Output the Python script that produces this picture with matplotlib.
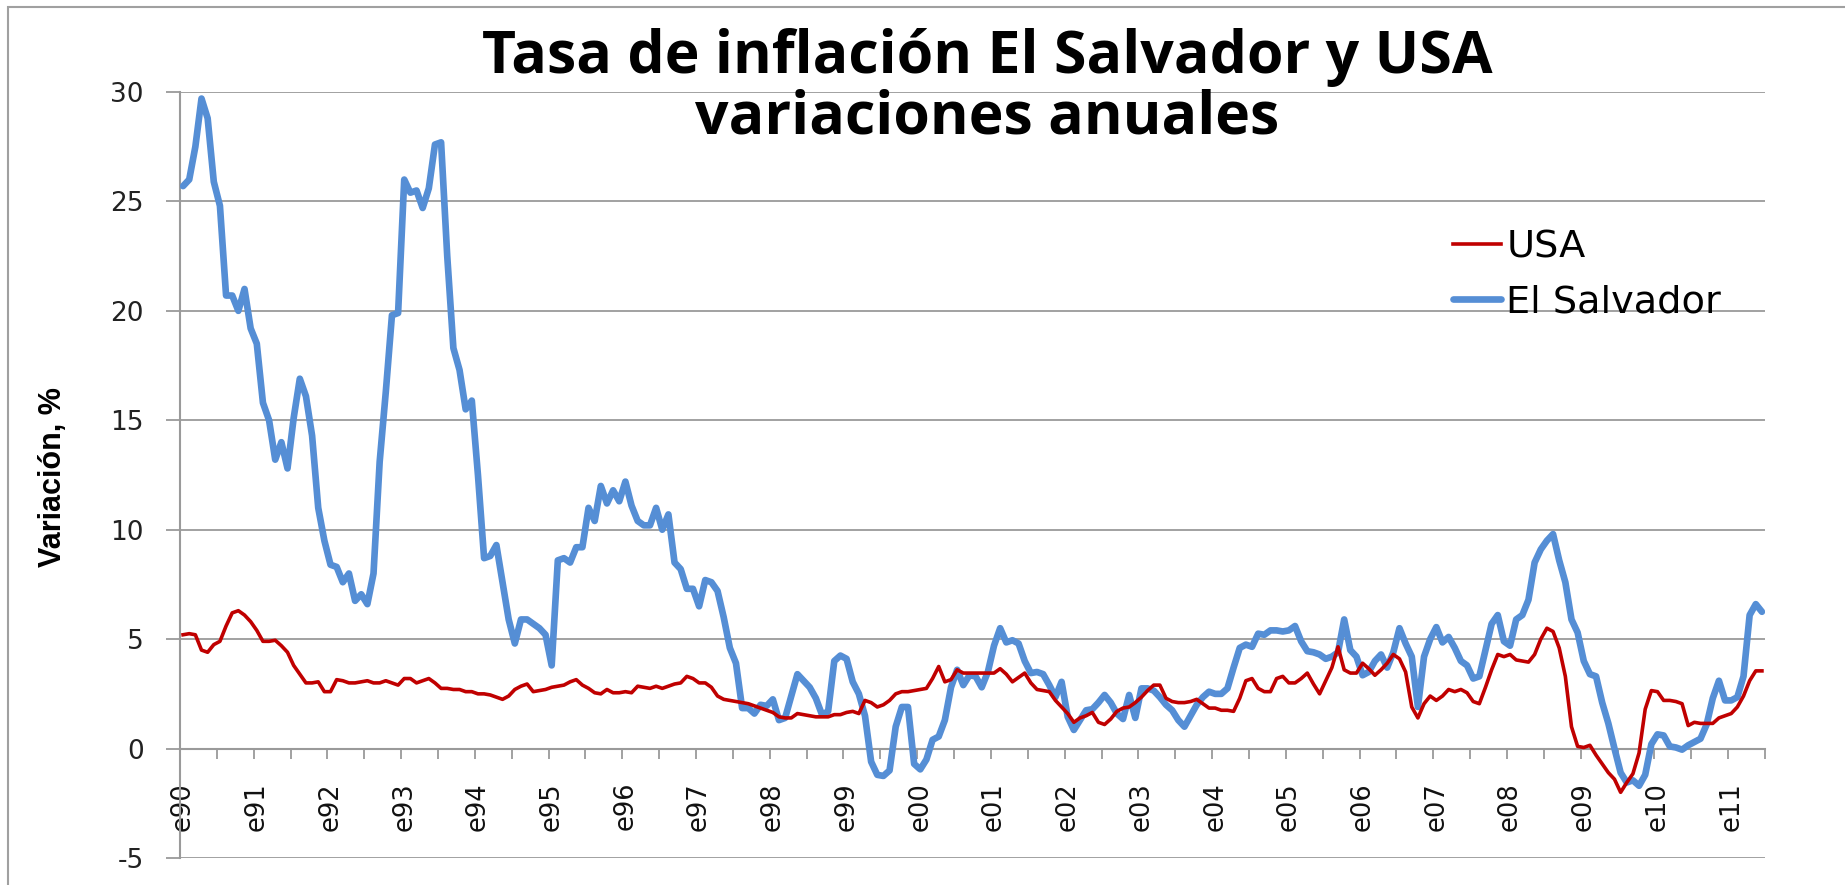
import numpy as np
import matplotlib
matplotlib.use("Agg")
import matplotlib.pyplot as plt
from matplotlib.patches import Rectangle

plt.rcParams["axes.unicode_minus"] = False

# monthly annual-inflation rates, Jan 1990 .. Jun 2011
el_salvador = [
    25.7, 26.0, 27.5, 29.7, 28.8, 25.9, 24.8, 20.7, 20.7, 20.0, 21.0, 19.2,  # 1990
    18.5, 15.8, 15.0, 13.2, 14.0, 12.8, 15.1, 16.9, 16.1, 14.3, 11.0, 9.5,   # 1991
    8.4, 8.3, 7.6, 8.0, 6.75, 7.05, 6.6, 8.0, 13.1, 16.3, 19.8, 19.9,        # 1992
    26.0, 25.4, 25.5, 24.7, 25.6, 27.6, 27.7, 22.5, 18.3, 17.3, 15.5, 15.9,  # 1993
    12.5, 8.7, 8.8, 9.3, 7.6, 5.9, 4.8, 5.9, 5.9, 5.7, 5.5, 5.2,             # 1994
    3.8, 8.6, 8.7, 8.5, 9.2, 9.2, 11.0, 10.4, 12.0, 11.2, 11.8, 11.3,        # 1995
    12.2, 11.1, 10.4, 10.2, 10.2, 11.0, 10.0, 10.7, 8.5, 8.2, 7.3, 7.3,      # 1996
    6.5, 7.7, 7.6, 7.2, 6.0, 4.6, 3.9, 1.85, 1.85, 1.6, 2.0, 1.95,           # 1997
    2.25, 1.3, 1.4, 2.4, 3.4, 3.1, 2.8, 2.3, 1.55, 1.7, 4.0, 4.25,           # 1998
    4.1, 3.05, 2.5, 1.5, -0.6, -1.2, -1.25, -1.0, 1.0, 1.9, 1.9, -0.7,       # 1999
    -0.95, -0.5, 0.4, 0.55, 1.3, 2.8, 3.6, 2.9, 3.35, 3.3, 2.8, 3.5,         # 2000
    4.7, 5.5, 4.85, 4.95, 4.8, 4.0, 3.45, 3.5, 3.4, 2.9, 2.35, 3.05,         # 2001
    1.45, 0.85, 1.3, 1.75, 1.8, 2.1, 2.45, 2.1, 1.6, 1.35, 2.45, 1.4,        # 2002
    2.75, 2.75, 2.65, 2.35, 2.0, 1.75, 1.3, 1.0, 1.5, 2.0, 2.35, 2.6,        # 2003
    2.5, 2.5, 2.75, 3.7, 4.6, 4.75, 4.65, 5.25, 5.2, 5.4, 5.4, 5.35,         # 2004
    5.4, 5.6, 4.9, 4.45, 4.4, 4.3, 4.1, 4.2, 4.4, 5.9, 4.5, 4.2,             # 2005
    3.35, 3.5, 4.0, 4.3, 3.7, 4.4, 5.5, 4.8, 4.2, 1.9, 4.2, 5.0,             # 2006
    5.55, 4.85, 5.1, 4.6, 4.0, 3.8, 3.2, 3.3, 4.5, 5.7, 6.1, 4.9,            # 2007
    4.7, 5.9, 6.1, 6.8, 8.5, 9.1, 9.5, 9.8, 8.6, 7.6, 5.9, 5.3,              # 2008
    4.0, 3.4, 3.3, 2.1, 1.15, 0.0, -1.1, -1.55, -1.45, -1.7, -1.2, 0.2,      # 2009
    0.65, 0.6, 0.1, 0.05, -0.05, 0.15, 0.3, 0.45, 1.1, 2.3, 3.1, 2.2,        # 2010
    2.2, 2.35, 3.3, 6.1, 6.6, 6.25,                                          # 2011
]

usa = [
    5.2, 5.25, 5.2, 4.5, 4.4, 4.75, 4.9, 5.6, 6.2, 6.3, 6.1, 5.8,            # 1990
    5.4, 4.9, 4.9, 4.95, 4.7, 4.4, 3.8, 3.4, 3.0, 3.0, 3.05, 2.6,            # 1991
    2.6, 3.15, 3.1, 3.0, 3.0, 3.05, 3.1, 3.0, 3.0, 3.1, 3.0, 2.9,            # 1992
    3.2, 3.2, 3.0, 3.1, 3.2, 3.0, 2.75, 2.75, 2.7, 2.7, 2.6, 2.6,            # 1993
    2.5, 2.5, 2.45, 2.35, 2.25, 2.4, 2.7, 2.85, 2.95, 2.6, 2.65, 2.7,        # 1994
    2.8, 2.85, 2.9, 3.05, 3.15, 2.9, 2.75, 2.55, 2.5, 2.7, 2.55, 2.55,       # 1995
    2.6, 2.55, 2.85, 2.8, 2.75, 2.85, 2.75, 2.85, 2.95, 3.0, 3.3, 3.2,       # 1996
    3.0, 3.0, 2.8, 2.4, 2.25, 2.2, 2.15, 2.1, 2.05, 1.95, 1.85, 1.75,        # 1997
    1.65, 1.45, 1.4, 1.4, 1.6, 1.55, 1.5, 1.45, 1.45, 1.45, 1.55, 1.55,      # 1998
    1.65, 1.7, 1.6, 2.2, 2.1, 1.9, 2.0, 2.2, 2.5, 2.6, 2.6, 2.65,            # 1999
    2.7, 2.75, 3.2, 3.75, 3.05, 3.15, 3.6, 3.45, 3.45, 3.45, 3.45, 3.45,     # 2000
    3.45, 3.65, 3.4, 3.05, 3.25, 3.45, 3.0, 2.7, 2.65, 2.6, 2.2, 1.9,        # 2001
    1.6, 1.2, 1.4, 1.5, 1.65, 1.2, 1.1, 1.35, 1.7, 1.85, 1.9, 2.1,           # 2002
    2.35, 2.65, 2.9, 2.9, 2.3, 2.15, 2.1, 2.1, 2.15, 2.25, 2.05, 1.85,       # 2003
    1.85, 1.75, 1.75, 1.7, 2.3, 3.1, 3.2, 2.75, 2.6, 2.6, 3.2, 3.3,          # 2004
    3.0, 3.0, 3.2, 3.45, 2.95, 2.5, 3.1, 3.7, 4.65, 3.6, 3.45, 3.45,         # 2005
    3.9, 3.65, 3.35, 3.6, 3.9, 4.3, 4.1, 3.5, 1.9, 1.4, 2.05, 2.4,           # 2006
    2.2, 2.4, 2.7, 2.6, 2.7, 2.55, 2.15, 2.05, 2.8, 3.6, 4.3, 4.2,           # 2007
    4.3, 4.05, 4.0, 3.95, 4.3, 5.0, 5.5, 5.35, 4.6, 3.3, 1.0, 0.1,           # 2008
    0.05, 0.15, -0.3, -0.7, -1.1, -1.4, -2.0, -1.55, -1.15, -0.2, 1.8, 2.65, # 2009
    2.6, 2.2, 2.2, 2.15, 2.05, 1.05, 1.2, 1.15, 1.15, 1.15, 1.4, 1.5,        # 2010
    1.6, 1.9, 2.4, 3.1, 3.55, 3.55,                                          # 2011
]

year_labels = ["e90", "e91", "e92", "e93", "e94", "e95", "e96", "e97", "e98",
               "e99", "e00", "e01", "e02", "e03", "e04", "e05", "e06", "e07",
               "e08", "e09", "e10", "e11"]

n = len(usa)
x = np.arange(n) + 0.5  # category centres

W, H = 1845, 885
fig = plt.figure(figsize=(W / 100, H / 100), dpi=100)
ax = fig.add_axes([180 / W, 1 - 858 / H, (1765 - 180) / W, (858 - 92) / H])

grey = "#9a9a9a"
title_font = ["Open Sans", "DejaVu Sans"]

ax.plot(x, el_salvador, color="#558ED5", lw=4.8, solid_joinstyle="round",
        solid_capstyle="round", label="El Salvador", zorder=3)
ax.plot(x, usa, color="#C00000", lw=2.6, solid_joinstyle="round",
        label="USA", zorder=4)

ax.set_xlim(0, n)
ax.set_ylim(-5, 30)
ax.set_yticks(np.arange(-5, 31, 5))
ax.yaxis.grid(True, color=grey, lw=1.3)
ax.set_axisbelow(True)

for s in ["top", "right"]:
    ax.spines[s].set_visible(False)
ax.spines["left"].set_color(grey)
ax.spines["left"].set_linewidth(1.5)
ax.spines["bottom"].set_position(("data", 0))
ax.spines["bottom"].set_color(grey)
ax.spines["bottom"].set_linewidth(1.5)

# half-year tick marks, yearly labels at the January category
ax.set_xticks(np.arange(0, n + 1, 6))
ax.set_xticklabels([])
ax.set_xticks(np.arange(0, n, 12) + 0.5, minor=True)
ax.set_xticklabels(year_labels, minor=True, rotation=90)
ax.tick_params(axis="x", which="major", length=7, width=1.3, color=grey,
               direction="out")
ax.tick_params(axis="x", which="minor", length=0, pad=24, labelsize=18.5,
               labelcolor="#111111")
ax.tick_params(axis="y", length=10, width=1.3, color=grey, pad=16,
               labelsize=19, labelcolor="#222222")
for t in ax.get_xticklabels(minor=True):
    t.set_verticalalignment("top")

ax.set_ylabel("Variación, %", family=["Liberation Sans Narrow", "Liberation Sans"],
              fontsize=22, fontweight="bold", labelpad=0)
ax.yaxis.set_label_coords(-(180 - 68) / (1765 - 180), (858 - 477) / (858 - 92))

fig.text(987 / W, 1 - 73 / H, "Tasa de inflación El Salvador y USA",
         ha="center", va="baseline", family=title_font,
         fontsize=42.5, fontweight="bold")
fig.text(987 / W, 1 - 134 / H, "variaciones anuales",
         ha="center", va="baseline", family=title_font,
         fontsize=42.5, fontweight="bold")

handles, labels = ax.get_legend_handles_labels()
leg = ax.legend(handles[::-1], labels[::-1], loc="upper left",
                bbox_to_anchor=(1453 / W, 1 - 229 / H),
                bbox_transform=fig.transFigure, frameon=False,
                prop={"family": "DejaVu Sans", "size": 27.5},
                handlelength=1.25, handletextpad=0.15, labelspacing=0.5,
                borderpad=0, borderaxespad=0)

# chart-area border (only top and left edges are inside the picture)
fig.patches.append(Rectangle((8 / W, -0.1), 1.2, 1.1 - 7 / H,
                             transform=fig.transFigure, fill=False,
                             edgecolor="#a0a0a0", lw=1.5))

fig.savefig("out.png", dpi=100)
